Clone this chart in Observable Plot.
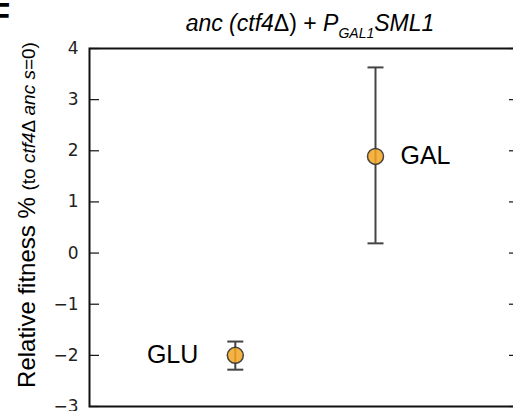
<!DOCTYPE html>
<html>
<head>
<meta charset="utf-8">
<script src="https://cdn.jsdelivr.net/npm/d3@7"></script>
<script src="https://cdn.jsdelivr.net/npm/@observablehq/plot@0.6"></script>
<style>
  html, body { margin: 0; padding: 0; background: #fff; overflow: hidden; }
  #chart { position: relative; width: 513px; height: 411px; }
</style>
</head>
<body>
<div id="chart"></div>
<script>
// ---- data ----
const conditions = ["GLU", "GAL"];
const xPositions = [0, 1];
const means = [-2.0, 1.89];
const lowers = [-2.28, 0.19];
const uppers = [-1.73, 3.63];
const yTicks = [-3, -2, -1, 0, 1, 2, 3, 4];
const yDomain = [-3, 4];
const xDomain = [-1.04, 2.02];

const data = conditions.map((c, i) => ({
  name: c, x: xPositions[i], mean: means[i], lo: lowers[i], hi: uppers[i]
}));

const capSymbol = {
  draw(ctx, size) {
    const w = Math.sqrt(size / Math.PI);
    ctx.moveTo(-w, 0);
    ctx.lineTo(w, 0);
  }
};

const fmt = d => (d < 0 ? "\u2212" + Math.abs(d) : String(d));

const plot = Plot.plot({
  width: 513,
  height: 411,
  marginTop: 48,
  marginBottom: 5,
  marginLeft: 89,
  marginRight: -5,
  style: {background: "#fff", overflow: "visible"},
  x: {domain: xDomain, axis: null},
  y: {domain: yDomain},
  marks: [
    Plot.axisY(yTicks, {anchor: "left", tickSize: 10, dx: 10, tickPadding: 11, tickFormat: fmt,
      fontSize: 17, fontFamily: "DejaVu Sans", fill: "#222", stroke: "#111", strokeWidth: 1.2, label: null}),
    Plot.axisY(yTicks, {anchor: "right", tickSize: 10, dx: -10, text: null, stroke: "#111", strokeWidth: 1.2, label: null}),
    Plot.ruleX(data, {x: "x", y1: "lo", y2: "hi", stroke: "#444", strokeWidth: 2}),
    Plot.dot(data, {x: "x", y: "lo", r: 8, symbol: capSymbol, fill: "none", stroke: "#444", strokeWidth: 2}),
    Plot.dot(data, {x: "x", y: "hi", r: 8, symbol: capSymbol, fill: "none", stroke: "#444", strokeWidth: 2}),
    Plot.dot(data, {x: "x", y: "mean", r: 8, fill: "#f5a623", fillOpacity: 0.85, stroke: "#333", strokeOpacity: 0.9, strokeWidth: 1.5}),
    Plot.text(data.filter(d => d.name === "GLU"), {x: "x", y: "mean", text: "name", textAnchor: "end", dx: -37,
      fontSize: 25, fontFamily: "Liberation Sans", fill: "#000"}),
    Plot.text(data.filter(d => d.name === "GAL"), {x: "x", y: "mean", text: "name", textAnchor: "start", dx: 25,
      fontSize: 25, fontFamily: "Liberation Sans", fill: "#000"}),
    Plot.frame({stroke: "#111", strokeWidth: 2})
  ]
});

document.getElementById("chart").appendChild(plot);

const svg = d3.select(plot);

// panel letter (cut off at the edge)
svg.append("text")
  .attr("x", 0).attr("y", 25.6)
  .attr("font-family", "Liberation Sans").attr("font-weight", "bold").attr("font-size", 33)
  .attr("fill", "#000")
  .text("F");

// title
const title = svg.append("text")
  .attr("x", 310).attr("y", 31)
  .attr("text-anchor", "middle")
  .attr("font-family", "Liberation Sans").attr("font-size", 23).attr("fill", "#000");
title.append("tspan").attr("font-style", "italic").text("anc (ctf4");
title.append("tspan").text("\u0394) + ");
title.append("tspan").attr("font-style", "italic").text("P");
title.append("tspan").attr("font-style", "italic").attr("font-size", 14).attr("dy", 7).text("GAL1");
title.append("tspan").attr("font-style", "italic").attr("dy", -7).text("SML1");

// y-axis label
const ylab = svg.append("text")
  .attr("transform", "translate(35,215) rotate(-90)")
  .attr("text-anchor", "middle")
  .attr("font-family", "Liberation Sans").attr("fill", "#000");
ylab.append("tspan").attr("font-size", 24).text("Relative fitness % ");
ylab.append("tspan").attr("font-size", 19).text("(to ");
ylab.append("tspan").attr("font-size", 19).attr("font-style", "italic").text("ctf4");
ylab.append("tspan").attr("font-size", 19).text("\u0394 ");
ylab.append("tspan").attr("font-size", 19).attr("font-style", "italic").text("anc s");
ylab.append("tspan").attr("font-size", 19).text("=0)");
</script>
</body>
</html>
